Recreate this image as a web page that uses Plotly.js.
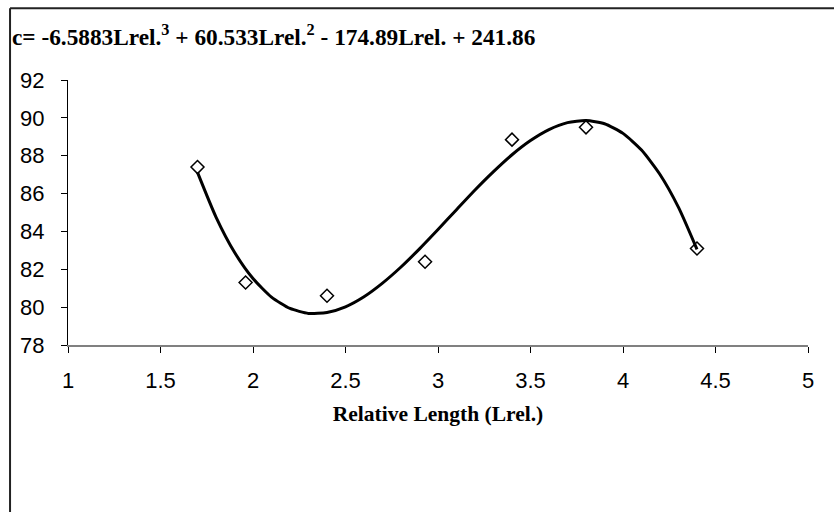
<!DOCTYPE html>
<html>
<head>
<meta charset="utf-8">
<script src="https://cdn.plot.ly/plotly-3.0.1.min.js"></script>
<style>html,body{margin:0;padding:0;background:#fff;}#chart{width:834px;height:512px;}</style>
</head>
<body>
<div id="chart"></div>
<script>
// Measured points
var pointX = [1.7, 1.96, 2.4, 2.93, 3.4, 3.8, 4.4];
var pointY = [87.4, 81.3, 80.6, 82.4, 88.85, 89.5, 83.1];
// Trend curve
var curveX = [1.7, 1.8, 1.9, 2.0, 2.1, 2.2, 2.3, 2.4, 2.5, 2.6, 2.7, 2.8, 2.9, 3.0, 3.1, 3.2, 3.3, 3.4, 3.5, 3.6, 3.7, 3.8, 3.9, 4.0, 4.1, 4.2, 4.3, 4.4];
var curveY = [87.12, 84.76, 82.90, 81.51, 80.53, 79.93, 79.67, 79.72, 80.02, 80.55, 81.27, 82.12, 83.08, 84.10, 85.15, 86.19, 87.16, 88.05, 88.80, 89.38, 89.75, 89.86, 89.69, 89.18, 88.30, 87.01, 85.27, 83.05];
var xTicks = [1, 1.5, 2, 2.5, 3, 3.5, 4, 4.5, 5];
var yTicks = [78, 80, 82, 84, 86, 88, 90, 92];
var titleText = '<b>c= -6.5883Lrel.<sup>3</sup> + 60.533Lrel.<sup>2</sup> - 174.89Lrel. + 241.86</b>';
var xTitle = '<b>Relative Length (Lrel.)</b>';

var traces = [
  {x: pointX, y: pointY, mode: 'markers', type: 'scatter',
   marker: {symbol: 'diamond-open', size: 10, color: '#000', line: {width: 1.5, color: '#000'}}},
  {x: curveX, y: curveY, mode: 'lines', type: 'scatter',
   line: {color: '#000', width: 3, shape: 'spline', smoothing: 0.6}}
];

var L = 67.5, R = 808, T = 79.5, B = 345;
var pw = R - L, ph = B - T;
function px(v){ return (v - L) / pw; }
function py(v){ return (B - v) / ph; }

var layout = {
  width: 834, height: 512,
  margin: {l: L, r: 834 - R, t: T, b: 512 - B, pad: 0},
  paper_bgcolor: '#fff', plot_bgcolor: '#fff',
  showlegend: false,
  title: {text: titleText, xref: 'container', yref: 'container', x: 12/834, xanchor: 'left',
          y: 1 - 37/512, yanchor: 'middle',
          font: {family: 'Liberation Serif', size: 23.3, color: '#000'}},
  xaxis: {range: [1, 5], tickvals: xTicks, ticktext: xTicks.map(String),
          showgrid: false, zeroline: false, showline: true, linecolor: '#808080', linewidth: 2,
          ticks: 'outside', ticklen: 6, tickcolor: '#000', tickwidth: 1,
          ticklabelstandoff: 9,
          tickfont: {family: 'Liberation Sans', size: 22, color: '#000'},
          title: {text: xTitle, standoff: 14, font: {family: 'Liberation Serif', size: 21.5, color: '#000'}},
          automargin: false, fixedrange: true},
  yaxis: {range: [78, 92], tickvals: yTicks, ticktext: yTicks.map(String),
          showgrid: false, zeroline: false, showline: true, linecolor: '#000', linewidth: 1,
          ticks: 'outside', ticklen: 6, tickcolor: '#000', tickwidth: 1,
          ticklabelstandoff: 12,
          tickfont: {family: 'Liberation Sans', size: 22, color: '#000'},
          automargin: false, fixedrange: true},
  shapes: [
    {type: 'line', xref: 'paper', yref: 'paper', x0: px(9.5), x1: px(840), y0: py(7.5), y1: py(7.5),
     line: {color: '#222', width: 2}},
    {type: 'line', xref: 'paper', yref: 'paper', x0: px(9.5), x1: px(9.5), y0: py(7.5), y1: py(520),
     line: {color: '#222', width: 2}}
  ]
};

Plotly.newPlot('chart', traces, layout, {staticPlot: true, displayModeBar: false});
</script>
</body>
</html>
